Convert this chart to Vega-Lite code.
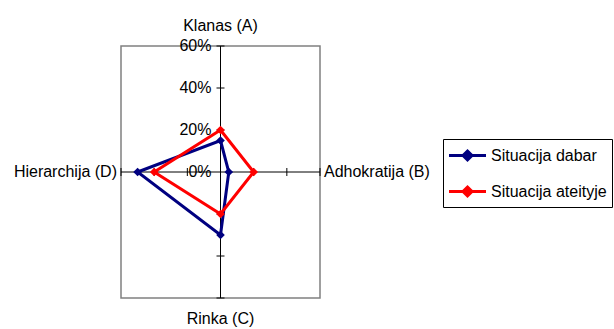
{
  "$schema": "https://vega.github.io/schema/vega-lite/v6.json",
  "width": 199,
  "height": 252,
  "autosize": {"type": "none"},
  "padding": {"left": 121, "top": 46, "right": 294, "bottom": 31},
  "config": {
    "view": {"stroke": "#808080", "strokeWidth": 1.5},
    "font": "Liberation Sans",
    "text": {"font": "Liberation Sans", "fontSize": 16, "color": "#000000"}
  },
  "datasets": {
    "scores": [
      {"series": "Situacija dabar", "code": "A", "value": 0.15},
      {"series": "Situacija dabar", "code": "B", "value": 0.05},
      {"series": "Situacija dabar", "code": "C", "value": 0.30},
      {"series": "Situacija dabar", "code": "D", "value": 0.50},
      {"series": "Situacija ateityje", "code": "A", "value": 0.20},
      {"series": "Situacija ateityje", "code": "B", "value": 0.20},
      {"series": "Situacija ateityje", "code": "C", "value": 0.20},
      {"series": "Situacija ateityje", "code": "D", "value": 0.40}
    ],
    "ticks": [{"p": -0.6}, {"p": -0.4}, {"p": -0.2}, {"p": 0.2}, {"p": 0.4}, {"p": 0.6}],
    "labels": [{"p": 0}, {"p": 0.2}, {"p": 0.4}, {"p": 0.6}],
    "one": [{"k": 1}]
  },
  "layer": [
    {
      "data": {"name": "one"},
      "mark": {"type": "rule", "color": "#000000", "strokeWidth": 1, "opacity": 1},
      "encoding": {"x": {"datum": 0, "type": "quantitative", "scale": {"domain": [-0.6, 0.6]}, "axis": null}}
    },
    {
      "data": {"name": "one"},
      "mark": {"type": "rule", "color": "#000000", "strokeWidth": 1, "opacity": 1},
      "encoding": {"y": {"datum": 0, "type": "quantitative", "scale": {"domain": [-0.6, 0.6]}, "axis": null}}
    },
    {
      "data": {"name": "ticks"},
      "mark": {"type": "tick", "orient": "horizontal", "color": "#000000", "size": 8, "thickness": 1, "opacity": 1},
      "encoding": {
        "x": {"datum": 0, "type": "quantitative", "scale": {"domain": [-0.6, 0.6]}, "axis": null},
        "y": {"field": "p", "type": "quantitative", "scale": {"domain": [-0.6, 0.6]}, "axis": null}
      }
    },
    {
      "data": {"name": "ticks"},
      "mark": {"type": "tick", "orient": "vertical", "color": "#000000", "size": 8, "thickness": 1, "opacity": 1},
      "encoding": {
        "x": {"field": "p", "type": "quantitative", "scale": {"domain": [-0.6, 0.6]}, "axis": null},
        "y": {"datum": 0, "type": "quantitative", "scale": {"domain": [-0.6, 0.6]}, "axis": null}
      }
    },
    {
      "data": {"name": "labels"},
      "mark": {"type": "text", "align": "right", "baseline": "middle", "dx": -9},
      "encoding": {
        "x": {"datum": 0, "type": "quantitative", "scale": {"domain": [-0.6, 0.6]}, "axis": null},
        "y": {"field": "p", "type": "quantitative", "scale": {"domain": [-0.6, 0.6]}, "axis": null},
        "text": {"field": "p", "type": "quantitative", "format": ".0%"}
      }
    },
    {
      "data": {"name": "one"},
      "mark": {"type": "text", "text": "Klanas (A)", "align": "center", "baseline": "alphabetic", "dy": -15, "clip": false},
      "encoding": {
        "x": {"datum": 0, "type": "quantitative", "scale": {"domain": [-0.6, 0.6]}, "axis": null},
        "y": {"datum": 0.6, "type": "quantitative", "scale": {"domain": [-0.6, 0.6]}, "axis": null}
      }
    },
    {
      "data": {"name": "one"},
      "mark": {"type": "text", "text": "Adhokratija (B)", "align": "left", "baseline": "middle", "dx": 4, "clip": false},
      "encoding": {
        "x": {"datum": 0.6, "type": "quantitative", "scale": {"domain": [-0.6, 0.6]}, "axis": null},
        "y": {"datum": 0, "type": "quantitative", "scale": {"domain": [-0.6, 0.6]}, "axis": null}
      }
    },
    {
      "data": {"name": "one"},
      "mark": {"type": "text", "text": "Rinka (C)", "align": "center", "baseline": "alphabetic", "dy": 26, "clip": false},
      "encoding": {
        "x": {"datum": 0, "type": "quantitative", "scale": {"domain": [-0.6, 0.6]}, "axis": null},
        "y": {"datum": -0.6, "type": "quantitative", "scale": {"domain": [-0.6, 0.6]}, "axis": null}
      }
    },
    {
      "data": {"name": "one"},
      "mark": {"type": "text", "text": "Hierarchija (D)", "align": "right", "baseline": "middle", "dx": -4, "clip": false},
      "encoding": {
        "x": {"datum": -0.6, "type": "quantitative", "scale": {"domain": [-0.6, 0.6]}, "axis": null},
        "y": {"datum": 0, "type": "quantitative", "scale": {"domain": [-0.6, 0.6]}, "axis": null}
      }
    },
    {
      "data": {"name": "scores"},
      "transform": [
        {"calculate": "datum.code === 'B' ? datum.value : (datum.code === 'D' ? -datum.value : 0)", "as": "px"},
        {"calculate": "datum.code === 'A' ? datum.value : (datum.code === 'C' ? -datum.value : 0)", "as": "py"}
      ],
      "layer": [
        {
          "mark": {"type": "line", "interpolate": "linear-closed", "strokeWidth": 3},
          "encoding": {
            "x": {"field": "px", "type": "quantitative", "scale": {"domain": [-0.6, 0.6]}, "axis": null},
            "y": {"field": "py", "type": "quantitative", "scale": {"domain": [-0.6, 0.6]}, "axis": null},
            "order": {"field": "code"},
            "color": {
              "field": "series",
              "type": "nominal",
              "scale": {"domain": ["Situacija dabar", "Situacija ateityje"], "range": ["#000080", "#FF0000"]},
              "legend": {
                "orient": "none",
                "legendX": 322,
                "legendY": 93,
                "title": null,
                "strokeColor": "#000000",
                "padding": 5,
                "labelFont": "Liberation Sans",
                "labelFontSize": 16,
                "labelColor": "#000000",
                "labelOffset": 12,
                "symbolOffset": 8,
                "symbolType": "M-1.85,0L1.85,0M0,-0.45L0.45,0L0,0.45L-0.45,0Z",
                "symbolSize": 400,
                "symbolStrokeWidth": 3,
                "rowPadding": 14,
                "encode": {
                  "symbols": {
                    "update": {
                      "fill": {"scale": "color", "field": "value"},
                      "stroke": {"scale": "color", "field": "value"}
                    }
                  }
                }
              }
            }
          }
        },
        {
          "mark": {"type": "point", "shape": "diamond", "filled": true, "size": 75, "opacity": 1},
          "encoding": {
            "x": {"field": "px", "type": "quantitative", "scale": {"domain": [-0.6, 0.6]}, "axis": null},
            "y": {"field": "py", "type": "quantitative", "scale": {"domain": [-0.6, 0.6]}, "axis": null},
            "color": {"field": "series", "type": "nominal"}
          }
        }
      ]
    }
  ]
}
